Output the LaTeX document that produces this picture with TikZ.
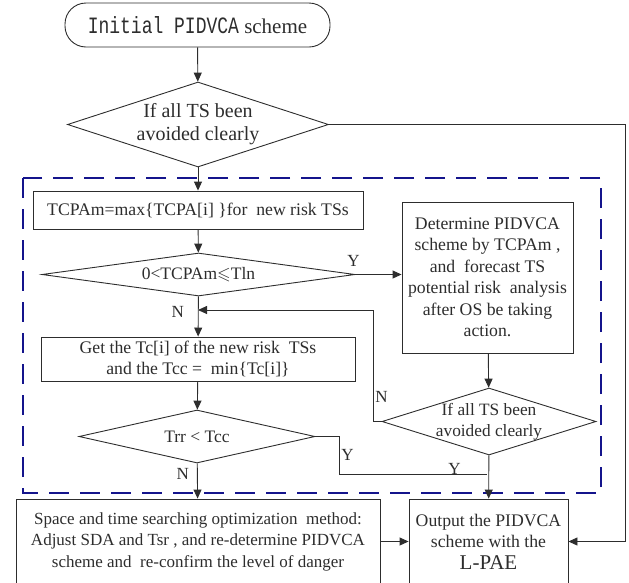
\documentclass[tikz,border=0pt]{standalone}
\usepackage{fontspec}
\usepackage{amssymb}
\setmainfont{Liberation Serif}
\newfontfamily\codefont{Liberation Mono}
\usetikzlibrary{arrows.meta,shapes.geometric}
\definecolor{framenavy}{RGB}{20,20,140}
\definecolor{ink}{RGB}{45,45,45}
\newcommand{\fs}[2]{\fontsize{#1}{#2}\selectfont}

\begin{document}
\begin{tikzpicture}[x=1pt,y=-1pt, color=ink, line width=0.9pt,
  proc/.style={draw, rectangle, inner sep=0pt, align=center, font=\fs{17.7}{21.5}},
  dec/.style={draw, diamond, inner sep=0pt},
  lbl/.style={font=\fs{17}{20}, inner sep=2pt},
  arr/.style={-{Triangle[length=9pt,width=8pt]}},
  dashbox/.style={draw=framenavy, line width=2.8pt, dash pattern=on 20pt off 11pt}
]
\clip (0,0) rectangle (629,582);

% dashed frame around the inner iteration loop
\draw[dashbox] (23,178) rectangle (601,493);

% blocks
\node[draw, rectangle, rounded corners=21pt, minimum width=265pt, minimum height=44pt,
      inner sep=0pt, font=\fs{21}{24}] (start) at (197.5,25)
  {{\codefont\fs{18}{20}\scalebox{1}[1.3]{Initial PIDVCA}} scheme};

\node[dec, minimum width=261pt, minimum height=85pt,
      label={[align=center, font=\fs{20}{23}]center:If all TS been\\avoided clearly}]
  (d1) at (198,124.5) {};

\node[proc, minimum width=330pt, minimum height=38pt] (tcpa) at (198,210)
  {TCPAm=max\{TCPA[i] \}for\ \ new risk TSs};

\node[dec, minimum width=313pt, minimum height=43pt,
      label={[font=\fs{17.5}{20}]center:0<TCPAm$\leqslant$Tln}]
  (d2) at (198.5,274.5) {};

\node[proc, minimum width=171pt, minimum height=151pt] (det) at (487.5,277.5)
  {Determine PIDVCA\\scheme by TCPAm ,\\and\ \ forecast TS\\potential risk\ \ analysis\\after OS be taking\\action.};

\node[proc, minimum width=314pt, minimum height=44pt] (tc) at (198,359)
  {Get the Tc[i] of the new risk\ \ TSs\\and the Tcc =\ \ min\{Tc[i]\}};

\node[dec, minimum width=214pt, minimum height=67pt,
      label={[align=center, font=\fs{17.3}{21}]center:If all TS been\\avoided clearly}]
  (d3) at (489,421.5) {};

\node[dec, minimum width=236pt, minimum height=53pt,
      label={[font=\fs{17.5}{20}]center:Trr < Tcc}]
  (d4) at (197,436.5) {};

\node[proc, minimum width=364pt, minimum height=85pt, font=\fs{17}{21.5}] (space) at (198,541.5)
  {Space and time searching optimization\ \ method:\\Adjust SDA and Tsr , and re-determine PIDVCA\\scheme and\ \ re-confirm the level of danger};

\node[proc, minimum width=159pt, minimum height=85pt] (out) at (488.5,541.5)
  {Output the PIDVCA\\scheme with the\\{\fs{21}{23}L-PAE}};

% turning points and junctions
\coordinate (merge1) at (198,310);
\coordinate (nturn)  at (373,310);
\coordinate (yturn)  at (339,474);
\coordinate (merge2) at (487,474);
\coordinate (rturn)  at (625,541.5);

% connectors
\draw[arr] (start) -- (d1);
\draw[arr] (d1) -- (tcpa);
\draw[arr] (tcpa) -- (d2);
\draw[arr] (d2.east) -- node[lbl, pos=0, anchor=south, xshift=-2pt, yshift=6pt] {Y} (d2.east -| det.west);
\draw[arr] (d2) -- node[lbl, pos=0.38, left=12pt] {N} (tc);
\draw[arr] (det) -- (d3);
\draw[arr] (d3.west) -| node[lbl, pos=0.61, right] {N} (nturn) -- (merge1);
\draw[arr] (tc) -- (d4);
\draw (d4.east) -| node[lbl, pos=0.75, right] {Y} (yturn)
      -- node[lbl, pos=0.78, above=-3pt] {Y} (merge2);
\draw[arr] (d3) -- (out);
\draw[arr] (d4) -- node[lbl, pos=0.3, left=6pt] {N} (space);
\draw[arr] (space) -- (out);
\draw[arr] (d1.east) -| (rturn) -- (out.east);
\end{tikzpicture}
\end{document}
